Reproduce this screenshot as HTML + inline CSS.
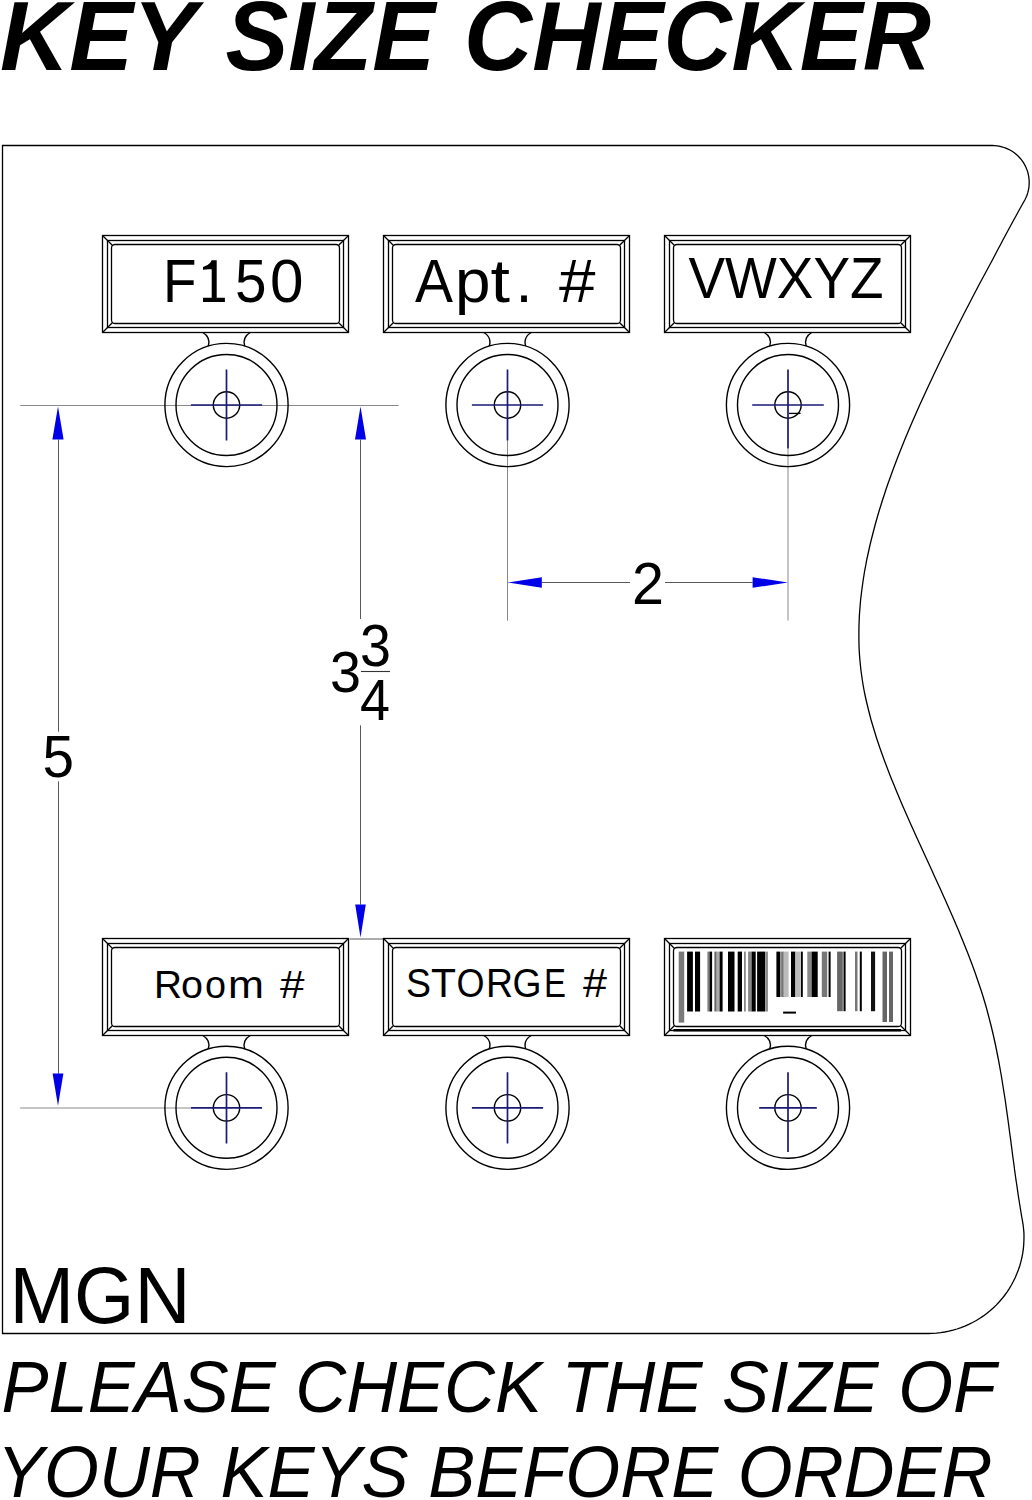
<!DOCTYPE html>
<html><head><meta charset="utf-8"><style>
html,body{margin:0;padding:0;background:#fff;width:1032px;height:1500px;overflow:hidden}
svg{display:block}
.k{fill:none;stroke:#000;stroke-width:1.3}
.t{fill:none;stroke:#000;stroke-width:1.4}
.o{fill:none;stroke:#000;stroke-width:1.3}
.x{fill:none;stroke:#1a1a78;stroke-width:1.7}
.g{fill:none;stroke:#8a8a8a;stroke-width:1}
.gd{fill:none;stroke:#5a5a5a;stroke-width:1}
.a{fill:#0000e8;stroke:none}
text{font-family:"Liberation Sans",sans-serif;fill:#000}
.title{font-weight:bold;font-style:italic}
.bt{font-style:italic}
</style></head><body>
<svg width="1032" height="1500" viewBox="0 0 1032 1500">
<path class="o" d="M2.5,1333.5 L2.5,145.5 L992.2,145.5 L992.2,145.5 L994.8,145.6 L997.4,145.9 L1000.0,146.3 L1002.6,147.0 L1005.1,147.8 L1007.5,148.8 L1009.9,150.0 L1012.1,151.3 L1014.3,152.8 L1016.4,154.5 L1018.3,156.3 L1020.1,158.2 L1021.7,160.2 L1023.3,162.4 L1024.6,164.6 L1025.8,167.0 L1026.8,169.4 L1027.7,171.9 L1028.3,174.5 L1028.8,177.1 L1029.1,179.7 L1029.2,182.3 L1029.1,184.9 L1028.9,187.5 L1028.4,190.1 L1027.8,192.7 L1027.0,195.2 L1026.0,197.6 L1024.8,200.0 L1022.0,205.0 L1019.2,210.0 L1016.5,215.0 L1013.7,220.0 L1011.0,225.0 L1008.3,230.0 L1005.6,235.0 L1002.9,240.0 L1000.3,245.0 L997.6,250.0 L995.0,255.0 L992.4,260.0 L989.7,265.0 L987.0,270.0 L984.3,275.0 L981.6,280.0 L978.9,285.0 L976.3,290.0 L973.7,295.0 L971.1,300.0 L968.5,305.0 L965.9,310.0 L963.3,315.0 L960.8,320.0 L958.2,325.0 L955.7,330.0 L953.2,335.0 L950.7,340.0 L948.2,345.0 L945.7,350.0 L943.3,355.0 L940.8,360.0 L938.4,365.0 L936.0,370.0 L933.6,375.0 L931.3,380.0 L928.9,385.0 L926.6,390.0 L924.3,395.0 L922.0,400.0 L919.7,405.0 L917.5,410.0 L915.3,415.0 L913.1,420.0 L910.9,425.0 L908.8,430.0 L906.7,435.0 L904.6,440.0 L902.6,445.0 L900.6,450.0 L898.6,455.0 L896.7,460.0 L894.8,465.0 L892.9,470.0 L891.1,475.0 L889.3,480.0 L887.5,485.0 L885.8,490.0 L884.2,495.0 L882.5,500.0 L881.0,505.0 L879.4,510.0 L877.9,515.0 L876.5,520.0 L875.1,525.0 L873.8,530.0 L872.5,535.0 L871.2,540.0 L870.0,545.0 L868.9,550.0 L867.8,555.0 L866.7,560.0 L865.8,565.0 L864.8,570.0 L864.0,575.0 L863.2,580.0 L862.5,585.0 L861.8,590.0 L861.2,595.0 L860.6,600.0 L860.2,605.0 L859.8,610.0 L859.4,615.0 L859.2,620.0 L859.0,625.0 L858.9,630.0 L858.9,635.0 L858.9,640.0 L859.0,645.0 L859.2,650.0 L859.5,655.0 L859.9,660.0 L860.4,665.0 L860.9,670.0 L861.6,675.0 L862.3,680.0 L863.1,685.0 L864.0,690.0 L865.0,695.0 L866.1,700.0 L867.3,705.0 L868.5,710.0 L869.8,715.0 L871.1,720.0 L872.6,725.0 L874.1,730.0 L875.6,735.0 L877.2,740.0 L878.9,745.0 L880.6,750.0 L882.4,755.0 L884.2,760.0 L886.1,765.0 L888.0,770.0 L889.9,775.0 L891.9,780.0 L894.0,785.0 L896.0,790.0 L898.1,795.0 L900.2,800.0 L902.3,805.0 L904.5,810.0 L906.7,815.0 L908.9,820.0 L911.1,825.0 L913.4,830.0 L915.6,835.0 L917.9,840.0 L920.2,845.0 L922.5,850.0 L924.8,855.0 L927.1,860.0 L929.4,865.0 L931.7,870.0 L933.9,875.0 L936.2,880.0 L938.5,885.0 L940.8,890.0 L943.0,895.0 L945.3,900.0 L947.5,905.0 L949.7,910.0 L951.9,915.0 L954.1,920.0 L956.2,925.0 L958.4,930.0 L960.4,935.0 L962.5,940.0 L964.5,945.0 L966.5,950.0 L968.5,955.0 L970.4,960.0 L972.3,965.0 L974.1,970.0 L975.9,975.0 L977.6,980.0 L979.3,985.0 L981.0,990.0 L982.6,995.0 L984.1,1000.0 L985.6,1005.0 L987.0,1010.0 L988.3,1015.0 L989.6,1020.0 L990.9,1025.0 L992.1,1030.0 L993.3,1035.0 L994.4,1040.0 L995.5,1045.0 L996.5,1050.0 L997.5,1055.0 L998.5,1060.0 L999.4,1065.0 L1000.3,1070.0 L1001.2,1075.0 L1002.0,1080.0 L1002.8,1085.0 L1003.6,1090.0 L1004.4,1095.0 L1005.2,1100.0 L1005.9,1105.0 L1006.6,1110.0 L1007.3,1115.0 L1008.0,1120.0 L1008.7,1125.0 L1009.3,1130.0 L1010.0,1135.0 L1010.7,1140.0 L1011.3,1145.0 L1012.0,1150.0 L1012.6,1155.0 L1013.3,1160.0 L1014.0,1165.0 L1014.6,1170.0 L1015.3,1175.0 L1016.0,1180.0 L1016.8,1185.0 L1017.5,1190.0 L1018.2,1195.0 L1019.0,1200.0 L1019.8,1205.0 L1020.6,1210.0 L1021.4,1215.0 L1022.3,1220.0 L1023.0,1224.0 L1023.5,1228.2 L1023.9,1232.4 L1024.0,1236.6 L1023.9,1240.8 L1023.7,1245.0 L1023.3,1249.2 L1022.7,1253.4 L1021.9,1257.5 L1020.9,1261.6 L1019.8,1265.7 L1018.4,1269.7 L1016.9,1273.6 L1015.3,1277.5 L1013.4,1281.3 L1011.4,1285.0 L1009.3,1288.6 L1007.0,1292.1 L1004.5,1295.5 L1001.9,1298.8 L999.1,1302.0 L996.2,1305.1 L993.2,1308.0 L990.0,1310.8 L986.7,1313.4 L983.4,1315.9 L979.9,1318.3 L976.3,1320.5 L972.6,1322.5 L968.8,1324.4 L964.9,1326.1 L961.0,1327.6 L957.0,1329.0 L953.0,1330.2 L948.9,1331.2 L944.8,1332.0 L940.6,1332.7 L936.4,1333.1 L932.2,1333.4 L928.0,1333.5 Z"/>
<path class="g" d="M20.2,405.5 H398.7"/>
<path class="g" d="M20.2,1108 H190.7"/>
<path class="gd" d="M58.5,439.6 V731.7 M58.5,781.3 V1073.6"/>
<path class="gd" d="M360.5,439.6 V619 M360.5,725.3 V904.6"/>
<path class="g" d="M507.5,440.2 V620.7 M788,448.5 V620.5"/>
<path class="gd" d="M541.8,582.5 H630 M665,582.5 H752.6"/>
<path class="gd" d="M349.7,939 H383.5"/>
<rect x="102.50" y="235.50" width="246.00" height="97.00" class="k"/>
<rect x="107.50" y="240.50" width="236.00" height="87.00" class="k"/>
<rect x="111.50" y="244.50" width="228.00" height="79.00" rx="3.5" class="k"/>
<path class="k" d="M102.50,235.50 l9.80,9.80 M348.50,235.50 l-9.80,9.80 M102.50,332.50 l9.80,-9.80 M348.50,332.50 l-9.80,-9.80"/>
<circle cx="226.50" cy="405.00" r="61.6" class="t"/>
<circle cx="226.50" cy="405.00" r="50.5" class="t"/>
<circle cx="226.50" cy="405.00" r="13.2" class="t"/>
<path class="t" d="M202.80,332.50 C208.00,335.50 210.00,340.50 208.30,346.15 M250.20,332.50 C245.00,335.50 243.00,340.50 244.70,346.15"/>
<path class="x" d="M190.90,405.00 h71.20 M226.50,369.40 v71.20"/>
<rect x="383.50" y="235.50" width="246.00" height="97.00" class="k"/>
<rect x="388.50" y="240.50" width="236.00" height="87.00" class="k"/>
<rect x="392.50" y="244.50" width="228.00" height="79.00" rx="3.5" class="k"/>
<path class="k" d="M383.50,235.50 l9.80,9.80 M629.50,235.50 l-9.80,9.80 M383.50,332.50 l9.80,-9.80 M629.50,332.50 l-9.80,-9.80"/>
<circle cx="507.50" cy="405.00" r="61.6" class="t"/>
<circle cx="507.50" cy="405.00" r="50.5" class="t"/>
<circle cx="507.50" cy="405.00" r="13.2" class="t"/>
<path class="t" d="M483.80,332.50 C489.00,335.50 491.00,340.50 489.30,346.15 M531.20,332.50 C526.00,335.50 524.00,340.50 525.70,346.15"/>
<path class="x" d="M471.90,405.00 h71.20 M507.50,369.40 v71.20"/>
<rect x="664.50" y="235.50" width="246.00" height="97.00" class="k"/>
<rect x="669.50" y="240.50" width="236.00" height="87.00" class="k"/>
<rect x="673.50" y="244.50" width="228.00" height="79.00" rx="3.5" class="k"/>
<path class="k" d="M664.50,235.50 l9.80,9.80 M910.50,235.50 l-9.80,9.80 M664.50,332.50 l9.80,-9.80 M910.50,332.50 l-9.80,-9.80"/>
<circle cx="788.00" cy="405.00" r="61.6" class="t"/>
<circle cx="788.00" cy="405.00" r="50.5" class="t"/>
<circle cx="788.00" cy="405.00" r="13.2" class="t"/>
<path class="t" d="M764.30,332.50 C769.50,335.50 771.50,340.50 769.80,346.15 M811.70,332.50 C806.50,335.50 804.50,340.50 806.20,346.15"/>
<path class="x" d="M752.20,405.00 h71.60 M788.00,369.40 v79.20"/>
<rect x="102.50" y="938.50" width="246.00" height="97.00" class="k"/>
<rect x="107.50" y="943.50" width="236.00" height="87.00" class="k"/>
<rect x="111.50" y="947.50" width="228.00" height="79.00" rx="3.5" class="k"/>
<path class="k" d="M102.50,938.50 l9.80,9.80 M348.50,938.50 l-9.80,9.80 M102.50,1035.50 l9.80,-9.80 M348.50,1035.50 l-9.80,-9.80"/>
<circle cx="226.50" cy="1107.80" r="61.6" class="t"/>
<circle cx="226.50" cy="1107.80" r="50.5" class="t"/>
<circle cx="226.50" cy="1107.80" r="13.2" class="t"/>
<path class="t" d="M202.80,1035.50 C208.00,1038.50 210.00,1043.50 208.30,1048.95 M250.20,1035.50 C245.00,1038.50 243.00,1043.50 244.70,1048.95"/>
<path class="x" d="M190.90,1107.80 h71.20 M226.50,1072.20 v71.20"/>
<rect x="383.50" y="938.50" width="246.00" height="97.00" class="k"/>
<rect x="388.50" y="943.50" width="236.00" height="87.00" class="k"/>
<rect x="392.50" y="947.50" width="228.00" height="79.00" rx="3.5" class="k"/>
<path class="k" d="M383.50,938.50 l9.80,9.80 M629.50,938.50 l-9.80,9.80 M383.50,1035.50 l9.80,-9.80 M629.50,1035.50 l-9.80,-9.80"/>
<circle cx="507.50" cy="1107.80" r="61.6" class="t"/>
<circle cx="507.50" cy="1107.80" r="50.5" class="t"/>
<circle cx="507.50" cy="1107.80" r="13.2" class="t"/>
<path class="t" d="M483.80,1035.50 C489.00,1038.50 491.00,1043.50 489.30,1048.95 M531.20,1035.50 C526.00,1038.50 524.00,1043.50 525.70,1048.95"/>
<path class="x" d="M471.90,1107.80 h71.20 M507.50,1072.20 v71.20"/>
<rect x="664.50" y="938.50" width="246.00" height="97.00" class="k"/>
<rect x="669.50" y="943.50" width="236.00" height="87.00" class="k"/>
<rect x="673.50" y="947.50" width="228.00" height="79.00" rx="3.5" class="k"/>
<path class="k" d="M664.50,938.50 l9.80,9.80 M910.50,938.50 l-9.80,9.80 M664.50,1035.50 l9.80,-9.80 M910.50,1035.50 l-9.80,-9.80"/>
<circle cx="788.00" cy="1107.80" r="61.6" class="t"/>
<circle cx="788.00" cy="1107.80" r="50.5" class="t"/>
<circle cx="788.00" cy="1107.80" r="13.2" class="t"/>
<path class="t" d="M764.30,1035.50 C769.50,1038.50 771.50,1043.50 769.80,1048.95 M811.70,1035.50 C806.50,1038.50 804.50,1043.50 806.20,1048.95"/>
<path class="x" d="M759.20,1107.80 h57.60 M788.00,1072.20 v79.80"/>
<path d="M789,413.4 H800.6" stroke="#000" stroke-width="1.3" fill="none"/>
<rect x="678.70" y="951.6" width="5.50" height="71.00" fill="#7a7a7a"/>
<rect x="687.10" y="951.6" width="5.80" height="59.90" fill="#000"/>
<rect x="695.00" y="951.6" width="5.10" height="59.90" fill="#000"/>
<rect x="707.40" y="951.6" width="2.10" height="59.90" fill="#808080"/>
<rect x="709.50" y="951.6" width="2.60" height="59.90" fill="#000"/>
<rect x="714.40" y="951.6" width="2.30" height="59.90" fill="#666"/>
<rect x="716.70" y="951.6" width="2.90" height="59.90" fill="#aaa"/>
<rect x="719.60" y="951.6" width="3.00" height="59.90" fill="#000"/>
<rect x="728.00" y="951.6" width="6.50" height="59.90" fill="#000"/>
<rect x="737.70" y="951.6" width="4.30" height="59.90" fill="#000"/>
<rect x="744.00" y="951.6" width="1.80" height="59.90" fill="#888"/>
<rect x="748.10" y="951.6" width="3.50" height="59.90" fill="#888"/>
<rect x="751.60" y="951.6" width="4.10" height="59.90" fill="#000"/>
<rect x="757.10" y="951.6" width="7.90" height="59.90" fill="#000"/>
<rect x="765.20" y="951.6" width="2.70" height="59.90" fill="#888"/>
<rect x="776.40" y="951.6" width="4.00" height="45.40" fill="#000"/>
<rect x="781.10" y="951.6" width="2.70" height="45.40" fill="#777"/>
<rect x="783.80" y="951.6" width="4.80" height="45.40" fill="#bbb"/>
<rect x="791.00" y="951.6" width="4.40" height="45.40" fill="#000"/>
<rect x="795.40" y="951.6" width="5.40" height="45.40" fill="#bbb"/>
<rect x="801.00" y="951.6" width="1.80" height="45.40" fill="#000"/>
<rect x="807.30" y="951.6" width="4.30" height="45.40" fill="#888"/>
<rect x="811.60" y="951.6" width="6.10" height="45.40" fill="#000"/>
<rect x="821.80" y="951.6" width="5.40" height="45.40" fill="#777"/>
<rect x="828.60" y="951.6" width="2.00" height="45.40" fill="#000"/>
<rect x="837.10" y="951.6" width="5.70" height="59.60" fill="#666"/>
<rect x="843.50" y="951.6" width="2.10" height="59.60" fill="#000"/>
<rect x="855.00" y="951.6" width="2.50" height="59.60" fill="#777"/>
<rect x="859.80" y="951.6" width="2.00" height="59.60" fill="#000"/>
<rect x="871.00" y="951.6" width="4.10" height="59.60" fill="#111"/>
<rect x="882.50" y="951.6" width="4.50" height="70.40" fill="#666"/>
<rect x="889.00" y="951.6" width="4.00" height="70.40" fill="#666"/>
<rect x="783.1" y="1011.6" width="12.9" height="2" fill="#000"/>
<path d="M673.5,1030.2 H901" stroke="#000" stroke-width="2.5" fill="none"/>
<path class="a" d="M58,406.6 L52.4,439.6 L63.6,439.6 Z"/>
<path class="a" d="M360.5,406.6 L355,439.6 L366,439.6 Z"/>
<path class="a" d="M58,1105.7 L52.6,1073.6 L63.4,1073.6 Z"/>
<path class="a" d="M360.5,937.5 L355.2,904.6 L365.8,904.6 Z"/>
<path class="a" d="M507.4,582.5 L541.8,577.2 L541.8,587.8 Z"/>
<path class="a" d="M787.9,582.5 L752.6,577.2 L752.6,587.8 Z"/>
<text x="0.00" y="70.00" class="title" font-size="98.59" textLength="197.00" lengthAdjust="spacingAndGlyphs">KEY</text>
<text x="225.50" y="69.50" class="title" font-size="98.60" textLength="209.50" lengthAdjust="spacingAndGlyphs">SIZE</text>
<text x="464.00" y="70.00" class="title" font-size="98.60" textLength="467.00" lengthAdjust="spacingAndGlyphs">CHECKER</text>
<text x="688.50" y="297.50" class="tg" font-size="56.61" textLength="195.00" lengthAdjust="spacingAndGlyphs">VWXYZ</text>
<text x="42.50" y="777.00" class="tg" font-size="58.59" textLength="31.50" lengthAdjust="spacingAndGlyphs">5</text>
<text x="632.00" y="603.50" class="tg" font-size="58.59" textLength="32.00" lengthAdjust="spacingAndGlyphs">2</text>
<text x="330.00" y="692.00" class="tg" font-size="58.29" textLength="31.00" lengthAdjust="spacingAndGlyphs">3</text>
<text x="360.00" y="665.50" class="tg" font-size="58.59" textLength="31.00" lengthAdjust="spacingAndGlyphs">3</text>
<text x="360.00" y="719.50" class="tg" font-size="57.73" textLength="30.00" lengthAdjust="spacingAndGlyphs">4</text>
<text x="9.50" y="1322.50" class="tg" font-size="80.32" textLength="181.00" lengthAdjust="spacingAndGlyphs">MGN</text>
<text x="1.50" y="1412.00" class="bt" font-size="71.80" textLength="994.50" lengthAdjust="spacingAndGlyphs">PLEASE CHECK THE SIZE OF</text>
<text x="-3.00" y="1497.00" class="bt" font-size="71.80" textLength="995.50" lengthAdjust="spacingAndGlyphs">YOUR KEYS BEFORE ORDER</text>
<text x="163.00" y="302.30" class="tg thin" font-size="61.50" textLength="33.50" lengthAdjust="spacingAndGlyphs">F</text>
<text x="235.00" y="302.30" class="tg thin" font-size="61.50" textLength="31.50" lengthAdjust="spacingAndGlyphs">5</text>
<text x="270.00" y="302.30" class="tg thin" font-size="61.50" textLength="33.50" lengthAdjust="spacingAndGlyphs">0</text>
<text x="415.00" y="301.70" class="tg thin" font-size="60.80" textLength="38.00" lengthAdjust="spacingAndGlyphs">A</text>
<text x="455.00" y="301.70" class="tg thin" font-size="60.80" textLength="35.50" lengthAdjust="spacingAndGlyphs">p</text>
<text x="490.50" y="301.70" class="tg thin" font-size="60.80" textLength="19.50" lengthAdjust="spacingAndGlyphs">t</text>
<text x="515.50" y="301.70" class="tg thin" font-size="60.80" textLength="17.00" lengthAdjust="spacingAndGlyphs">.</text>
<text x="559.00" y="301.70" class="tg thin" font-size="60.80" textLength="36.50" lengthAdjust="spacingAndGlyphs">#</text>
<text x="154.00" y="997.70" class="tg thin" font-size="39.50" textLength="28.00" lengthAdjust="spacingAndGlyphs">R</text>
<text x="181.00" y="997.70" class="tg thin" font-size="39.50" textLength="22.00" lengthAdjust="spacingAndGlyphs">o</text>
<text x="205.00" y="997.70" class="tg thin" font-size="39.50" textLength="21.00" lengthAdjust="spacingAndGlyphs">o</text>
<text x="228.00" y="997.70" class="tg thin" font-size="39.50" textLength="36.00" lengthAdjust="spacingAndGlyphs">m</text>
<text x="280.00" y="997.70" class="tg thin" font-size="39.50" textLength="24.50" lengthAdjust="spacingAndGlyphs">#</text>
<text x="406.00" y="996.80" class="tg thin" font-size="40.00" textLength="25.00" lengthAdjust="spacingAndGlyphs">S</text>
<text x="431.00" y="996.80" class="tg thin" font-size="40.00" textLength="25.00" lengthAdjust="spacingAndGlyphs">T</text>
<text x="456.50" y="996.80" class="tg thin" font-size="40.00" textLength="28.00" lengthAdjust="spacingAndGlyphs">O</text>
<text x="486.00" y="996.80" class="tg thin" font-size="40.00" textLength="27.00" lengthAdjust="spacingAndGlyphs">R</text>
<text x="512.50" y="996.80" class="tg thin" font-size="40.00" textLength="29.00" lengthAdjust="spacingAndGlyphs">G</text>
<text x="544.00" y="996.80" class="tg thin" font-size="40.00" textLength="22.00" lengthAdjust="spacingAndGlyphs">E</text>
<text x="583.00" y="996.80" class="tg thin" font-size="40.00" textLength="24.00" lengthAdjust="spacingAndGlyphs">#</text>
<path d="M361,671.5 H390" stroke="#333" stroke-width="1.1" fill="none"/>
<path fill="#000" d="M211.7,260.2 L216.7,260.2 L216.7,297.8 L224.9,297.8 L224.9,302.1 L203,302.1 L203,297.8 L211.7,297.8 L211.7,269.3 Q207,268.9 203,269.8 L203,266.9 Q207.5,266.2 210.2,262.8 Z"/>
</svg></body></html>
